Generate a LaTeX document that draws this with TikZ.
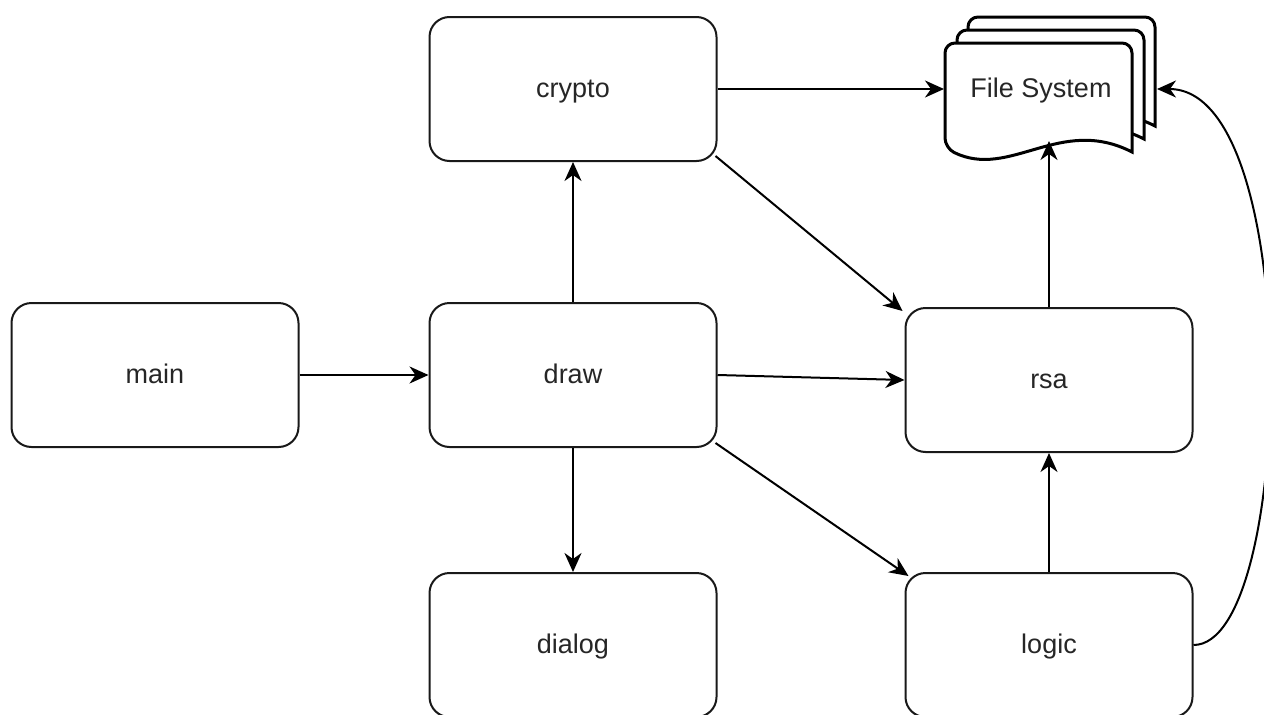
\documentclass[tikz,border=0pt]{standalone}
\usepackage{fontspec}
\setmainfont{Liberation Sans}
\usetikzlibrary{arrows.meta}
\begin{document}
\begin{tikzpicture}[x=1pt,y=-1pt,
  box/.style={draw=black!90, line width=2pt, rounded corners=20pt, fill=white,
    minimum width=287pt, minimum height=144pt, inner sep=0pt,
    font=\fontsize{27}{32}\selectfont, text=black!85, text height=20pt, text depth=4pt},
  conn/.style={draw=black, line width=2pt, -{Stealth[length=19pt,width=17pt,inset=6pt]}},
  page/.style={draw=black, line width=3pt, fill=white, rounded corners=10pt}
]
\useasboundingbox (0,0) rectangle (1264,715);
\fill[white] (0,0) rectangle (1264,715);

% nodes
\node[box] (main) at (155,375) {main};
\node[box] (draw) at (573,375) {draw};
\node[box] (crypto) at (573,89) {crypto};
\node[box] (dialog) at (573,645) {dialog};
\node[box] (rsa) at (1049,380) {rsa};
\node[box] (logic) at (1049,645) {logic};

% File System stacked documents
\foreach \dx/\dy in {23/-26, 12/-13, 0/0}{
  \begin{scope}[shift={(\dx,\dy)}]
    \draw[page] (1132,152) .. controls (1060,115) and (1010,180) .. (945,148)
      [sharp corners] -- (945,100) [rounded corners=10pt] -- (945,43) -- (1132,43) [sharp corners] -- (1132,100) -- cycle;
  \end{scope}
}
\node[font=\fontsize{27}{32}\selectfont, text=black!85, inner sep=0pt, text height=20pt, text depth=4pt] (fs) at (1041,89) {File System};
\coordinate (fsL) at (944,89);
\coordinate (fsR) at (1157,89);
\coordinate (fsB) at (1049,141);

% connectors
\draw[conn] (main.east) -- (draw.west);
\draw[conn] (draw.north) -- (crypto.south);
\draw[conn] (draw.south) -- (dialog.north);
\draw[conn] (draw.east) -- (rsa.west);
\draw[conn] (crypto.east) -- (fsL);
\draw[conn] ([shift={(-2,-6)}]crypto.south east) -- ([shift={(-2,4)}]rsa.north west);
\draw[conn] ([shift={(-2,-5)}]draw.south east) -- ([shift={(4,4)}]logic.north west);
\draw[conn] (rsa.north) -- (fsB);
\draw[conn] (logic.north) -- (rsa.south);
\draw[conn] (logic.east) .. controls (1295,645) and (1305,89) .. (fsR);
\end{tikzpicture}
\end{document}
